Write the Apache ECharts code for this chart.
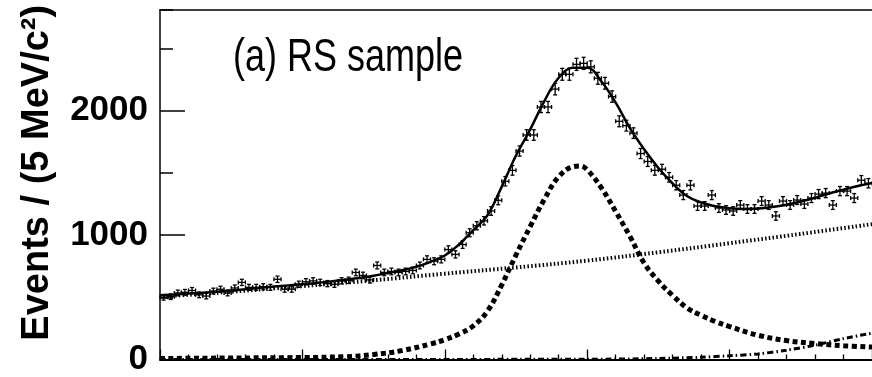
<!DOCTYPE html>
<html><head><meta charset="utf-8">
<script src="https://cdn.jsdelivr.net/npm/echarts@6/dist/echarts.min.js"></script>
<style>html,body{margin:0;padding:0;background:#fff}#c{width:872px;height:377px}</style>
</head><body><div id="c"></div>
<script>
// Histogram: 5 MeV bins from 0.60 to 1.10 GeV/c^2
const xMin = 0.6, xMax = 1.1, binWidth = 0.005;
const counts = [
  500, 505, 535, 540, 555, 520, 510, 550, 565, 535,
  575, 620, 580, 580, 585, 580, 645, 565, 565, 605,
  625, 632, 620, 610, 605, 633, 637, 700, 676, 640,
  756, 700, 708, 700, 708, 716, 756, 805, 790, 805,
  884, 845, 924, 1019, 1075, 1115, 1194, 1280, 1433, 1521,
  1676, 1805, 1805, 2030, 2030, 2174, 2293, 2293, 2373, 2381,
  2353, 2261, 2221, 2114, 1915, 1880, 1820, 1656, 1592, 1521,
  1530, 1465, 1401, 1322, 1401, 1234, 1234, 1322, 1218, 1202,
  1194, 1242, 1210, 1210, 1274, 1242, 1154, 1274, 1242, 1282,
  1250, 1298, 1330, 1338, 1242, 1354, 1354, 1298, 1441, 1417
];
// Total fit curve (solid)
const totalMass = [0.60,0.61,0.62,0.63,0.64,0.65,0.66,0.67,0.68,0.69,0.70,0.71,0.72,0.73,0.74,0.75,0.76,0.77,0.78,0.79,0.80,0.81,0.82,0.83,0.84,0.85,0.86,0.87,0.88,0.89,0.90,0.91,0.92,0.93,0.94,0.95,0.96,0.97,0.98,0.99,1.00,1.01,1.02,1.03,1.04,1.05,1.06,1.07,1.08,1.09,1.10];
const totalVal  = [517,523,530,537,545,554,565,576,586,596,606,616,628,641,655,673,695,718,745,785,836,925,1040,1160,1390,1640,1850,2080,2265,2345,2345,2235,2065,1860,1690,1540,1415,1315,1262,1232,1216,1210,1214,1226,1245,1270,1300,1335,1365,1395,1420];
// Signal component (thick dotted)
const sigMass = [0.60,0.65,0.70,0.73,0.75,0.77,0.79,0.80,0.81,0.82,0.83,0.84,0.85,0.86,0.87,0.88,0.89,0.895,0.90,0.91,0.92,0.93,0.94,0.95,0.96,0.97,0.98,0.99,1.00,1.02,1.04,1.06,1.08,1.10];
const sigVal  = [8,12,16,22,40,72,125,160,205,270,390,600,840,1070,1290,1470,1550,1555,1525,1380,1190,990,775,630,515,415,355,305,265,195,152,128,111,100];
// Background component (fine dotted)
const bgMass = [0.60,0.65,0.70,0.75,0.80,0.85,0.90,0.95,1.00,1.05,1.10];
const bgVal  = [505,545,590,637,690,740,795,862,935,1010,1088];
// Extra component (dash-dot)
const ddMass = [0.60,0.90,0.95,0.98,1.00,1.02,1.04,1.06,1.08,1.10];
const ddVal  = [0,2,8,18,30,45,75,115,168,212];
const yTicks = [0, 1000, 2000];
const panelLabel = '(a) RS sample';
const yTitle = 'Events / (5 MeV/c²)';

function pairs(xs, ys){ return xs.map((x,i)=>[x, ys[i]]); }
const points = counts.map((n,i)=>[xMin + (i+0.5)*binWidth, n, Math.sqrt(n)]);

const chart = echarts.init(document.getElementById('c'), null, {renderer:'canvas'});
const FONT = 'Liberation Sans';
chart.setOption({
  animation:false,
  backgroundColor:'#fff',
  graphic:[{
    type:'text', x:233, y:35, scaleX:1, scaleY:1.28, originX:0, originY:0, z:10,
    style:{text:panelLabel, x:0, y:0, verticalAlign:'top', align:'left',
      font:'normal 36px "Liberation Sans"', fill:'#000'}
  }],
  grid:{left:160, top:10, width:717, height:353},
  xAxis:[{
    type:'value', min:xMin, max:xMax, interval:0.1,
    axisLine:{show:true, lineStyle:{color:'#000', width:2}},
    axisTick:{show:true, inside:true, length:10, lineStyle:{color:'#000', width:1.3}},
    minorTick:{show:true, splitNumber:5, length:5, lineStyle:{color:'#000', width:1.3}},
    axisLabel:{show:false}, splitLine:{show:false}
  },{
    type:'value', position:'top', min:xMin, max:xMax,
    axisLine:{show:true, onZero:false, lineStyle:{color:'#000', width:1.5}},
    axisTick:{show:false}, axisLabel:{show:false}, splitLine:{show:false}
  }],
  yAxis:[{
    type:'value', min:0, max:2810, interval:1000,
    name:yTitle, nameLocation:'middle', nameGap:103,
    nameTextStyle:{fontFamily:FONT, fontWeight:'bold', fontSize:38, color:'#000', padding:[0,0,0,24]},
    axisLine:{show:true, lineStyle:{color:'#000', width:1.5}},
    axisTick:{show:true, inside:true, length:25, lineStyle:{color:'#000', width:1.5}},
    axisLabel:{show:true, margin:12, fontFamily:FONT, fontWeight:'bold', fontSize:35, color:'#000',
      showMaxLabel:false,
      formatter:function(v){ return yTicks.indexOf(v) >= 0 ? String(v) : ''; }},
    splitLine:{show:false}
  },{
    type:'value', min:0, max:2810, interval:500, position:'left',
    axisLine:{show:false},
    axisTick:{show:true, inside:true, length:13, lineStyle:{color:'#000', width:1.5}},
    axisLabel:{show:false}, splitLine:{show:false}
  }],
  series:[
    {type:'custom', name:'data', xAxisIndex:0, yAxisIndex:0, data:points, z:3,
     renderItem:function(params, api){
       const x = api.value(0), y = api.value(1), e = api.value(2);
       const c = api.coord([x, y]);
       const l = api.coord([x - binWidth/2, y]);
       const r = api.coord([x + binWidth/2, y]);
       const t = api.coord([x, y + e]);
       const b = api.coord([x, y - e]);
       const s = {stroke:'#000', lineWidth:1.3};
       const cap = 2;
       return {type:'group', children:[
         {type:'line', shape:{x1:l[0], y1:c[1], x2:r[0], y2:c[1]}, style:s},
         {type:'line', shape:{x1:c[0], y1:t[1], x2:c[0], y2:b[1]}, style:s},
         {type:'line', shape:{x1:c[0]-cap, y1:t[1], x2:c[0]+cap, y2:t[1]}, style:s},
         {type:'line', shape:{x1:c[0]-cap, y1:b[1], x2:c[0]+cap, y2:b[1]}, style:s},
         {type:'line', shape:{x1:l[0], y1:c[1]-cap, x2:l[0], y2:c[1]+cap}, style:s},
         {type:'line', shape:{x1:r[0], y1:c[1]-cap, x2:r[0], y2:c[1]+cap}, style:s}
       ]};
     }},
    {type:'line', name:'background', data:pairs(bgMass,bgVal), smooth:0.4, symbol:'none', z:2,
     lineStyle:{color:'#000', width:4, type:[1.5,2.3], cap:'butt'}},
    {type:'line', name:'signal', data:pairs(sigMass,sigVal), smooth:0.4, symbol:'none', z:2,
     lineStyle:{color:'#000', width:5, type:[5,3.5], cap:'butt'}},
    {type:'line', name:'other', data:pairs(ddMass,ddVal), smooth:0.3, symbol:'none', z:2,
     lineStyle:{color:'#000', width:3, type:[6,3,1.5,3], cap:'butt'}},
    {type:'line', name:'total', data:pairs(totalMass,totalVal), smooth:0.4, symbol:'none', z:4,
     lineStyle:{color:'#000', width:2.5}}
  ]
});
</script>
</body></html>
